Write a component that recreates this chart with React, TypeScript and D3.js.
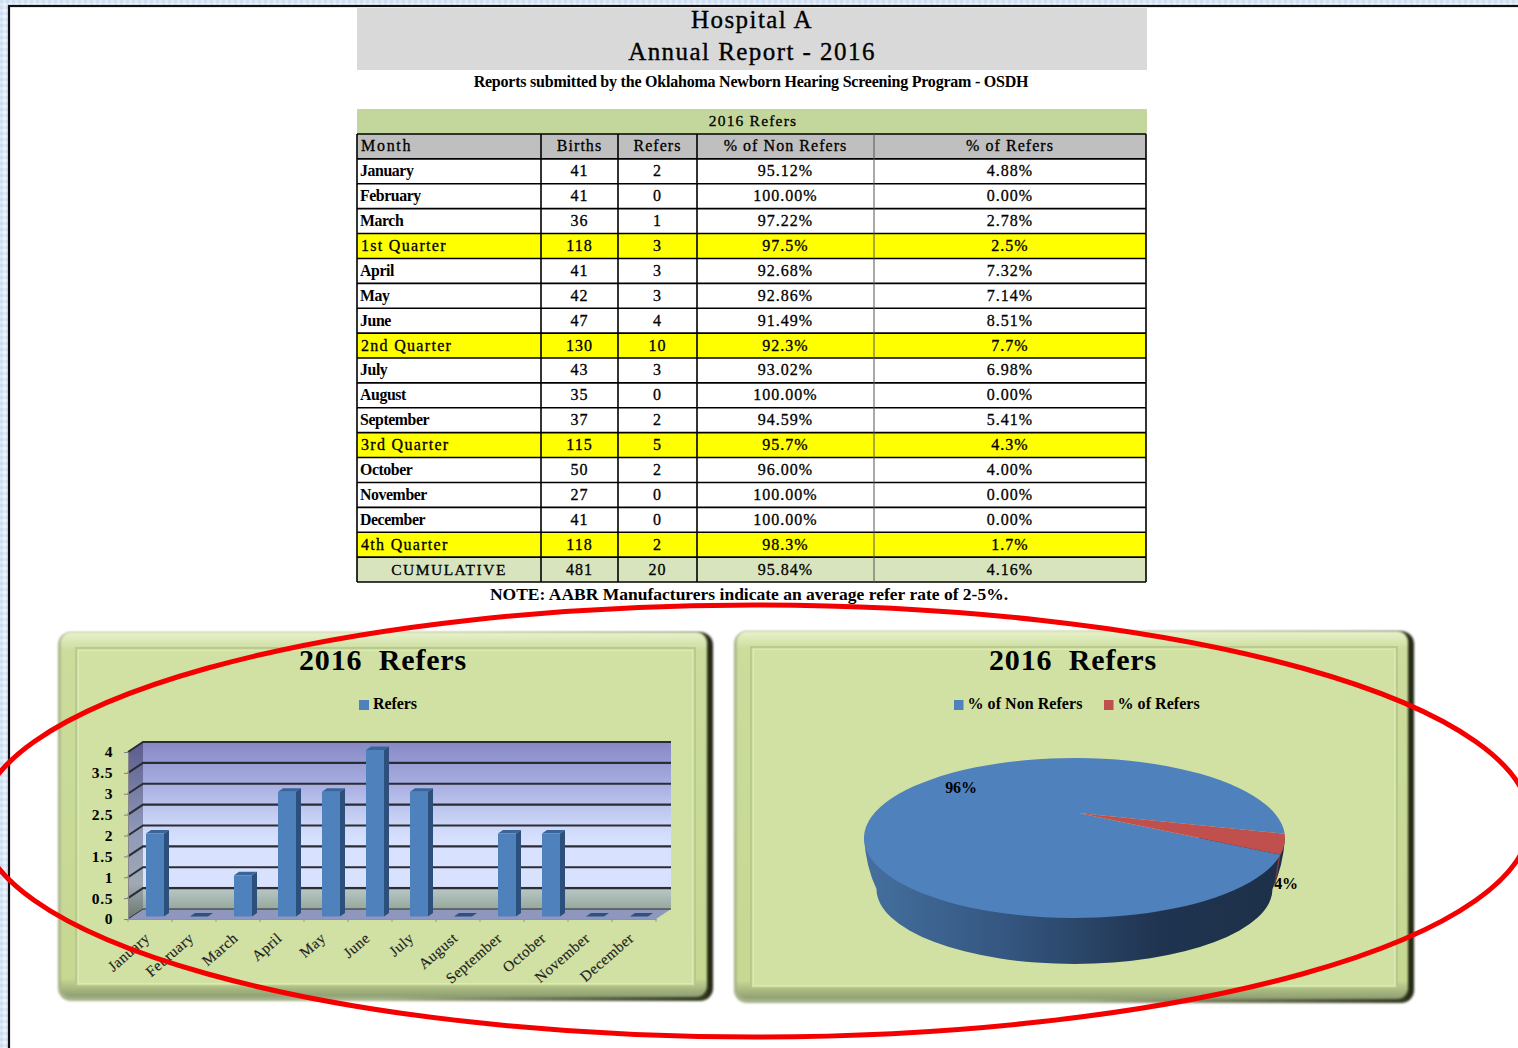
import * as d3 from "d3";
import React from "react";

// table columns
const rowLabels = ["January","February","March","1st Quarter","April","May","June","2nd Quarter","July","August","September","3rd Quarter","October","November","December","4th Quarter","CUMULATIVE"];
const birthsCol = ["41","41","36","118","41","42","47","130","43","35","37","115","50","27","41","118","481"];
const refersCol = ["2","0","1","3","3","3","4","10","3","0","2","5","2","0","0","2","20"];
const nonReferCol = ["95.12%","100.00%","97.22%","97.5%","92.68%","92.86%","91.49%","92.3%","93.02%","100.00%","94.59%","95.7%","96.00%","100.00%","100.00%","98.3%","95.84%"];
const referCol = ["4.88%","0.00%","2.78%","2.5%","7.32%","7.14%","8.51%","7.7%","6.98%","0.00%","5.41%","4.3%","4.00%","0.00%","0.00%","1.7%","4.16%"];
const headers = ["Month","Births","Refers","% of Non Refers","% of Refers"];

// bar chart
const months = ["January","February","March","April","May","June","July","August","September","October","November","December"];
const monthRefers = [2,0,1,3,3,4,3,0,2,2,0,0];
const yTicks = [0,0.5,1,1.5,2,2.5,3,3.5,4];

// pie chart
const pieLabels = ["% of Non Refers","% of Refers"];
const pieValues = [95.84,4.16];
const pieText = ["96%","4%"];

const serif = "'Liberation Serif', serif";

const drawPanel = (svg, x, y, w, h, inset) => {
  const g = svg.append("g");
  g.append("rect").attr("x", x).attr("y", y).attr("width", w).attr("height", h).attr("rx", 13)
    .attr("fill", "url(#bevelEdge)").attr("filter", "url(#soft)");
  g.append("rect").attr("x", x + 2.5).attr("y", y).attr("width", w - 8.5).attr("height", h - 4).attr("rx", 11)
    .attr("fill", "url(#bevelFace)").attr("filter", "url(#soft)");
  g.append("rect").attr("x", x + inset).attr("y", y + 16).attr("width", w - inset * 2).attr("height", h - 31)
    .attr("fill", "#d0e1a3").attr("stroke", "#b2c388").attr("stroke-width", 1.5);
  g.append("rect").attr("x", x + inset + 2.5).attr("y", y + 18.5).attr("width", w - inset * 2 - 5).attr("height", h - 36)
    .attr("fill", "none").attr("stroke", "#dcebb4").attr("stroke-width", 1);
};

const App = () => {
  const ref = React.useRef(null);

  React.useEffect(() => {
    const svg = d3.select(ref.current);
    svg.selectAll("*").remove();

    const defs = svg.append("defs");
    const grad = (id, stops, horizontal = false) => {
      const g = defs.append("linearGradient").attr("id", id)
        .attr("x1", 0).attr("y1", 0).attr("x2", horizontal ? 1 : 0).attr("y2", horizontal ? 0 : 1);
      stops.forEach(([o, c]) => g.append("stop").attr("offset", o).attr("stop-color", c));
    };
    grad("wall", [[0,"#8688c4"],[0.25,"#a8aee0"],[0.5,"#ccd7f8"],[0.6,"#d8e2ff"],[0.86,"#d8e2ff"],[0.88,"#b8c6c4"],[1,"#96a99c"]]);
    grad("sideWall", [[0,"#5a5c8c"],[0.5,"#8f98b8"],[0.8,"#a0a9b4"],[1,"#68786c"]]);
    grad("pieSide", [[0,"#44709f"],[0.35,"#34557f"],[0.7,"#1f3450"],[1,"#1d3049"]], true);
    grad("bevelEdge", [[0,"#a4b388"],[0.5,"#a4b388"],[0.985,"#343a22"],[1,"#20240f"]], true);
    grad("bevelFace", [[0,"#e8f2cc"],[0.05,"#cbdc9c"],[0.95,"#c6d892"],[1,"#8f9d72"]]);
    defs.append("filter").attr("id", "soft").append("feGaussianBlur").attr("stdDeviation", 1.3);
    const tile = defs.append("pattern").attr("id", "pageTile").attr("width", 6).attr("height", 6).attr("patternUnits", "userSpaceOnUse");
    tile.append("rect").attr("width", 6).attr("height", 6).attr("fill", "#dfe9f6");
    tile.append("rect").attr("width", 3).attr("height", 3).attr("fill", "#cfdff2");
    tile.append("rect").attr("x", 3).attr("y", 3).attr("width", 3).attr("height", 3).attr("fill", "#edf3fa");

    // page frame
    svg.append("rect").attr("width", 1518).attr("height", 1048).attr("fill", "url(#pageTile)");
    svg.append("rect").attr("x", 9).attr("y", 6).attr("width", 1520).attr("height", 1060)
      .attr("fill", "#fff").attr("stroke", "#111").attr("stroke-width", 2.2);

    // heading
    svg.append("rect").attr("x", 357).attr("y", 8).attr("width", 790).attr("height", 62).attr("fill", "#d9d9d9");
    const label = (parent, txt, x, y, size, anchor = "middle", weight = "bold", spacing = 0, heavy = 0) =>
      parent.append("text").text(txt).attr("x", x).attr("y", y).attr("font-size", size)
        .attr("text-anchor", anchor).attr("font-weight", weight).attr("letter-spacing", spacing)
        .attr("font-family", serif).attr("fill", "#000")
        .attr("stroke", heavy ? "#000" : "none").attr("stroke-width", heavy)
        .style("white-space", "pre");
    label(svg, "Hospital A", 752, 28, 25, "middle", "normal", 1.45, 0.35);
    label(svg, "Annual Report - 2016", 752, 60, 25, "middle", "normal", 1.45, 0.35);
    label(svg, "Reports submitted by the Oklahoma Newborn Hearing Screening Program - OSDH", 751, 87, 16, "middle", "bold", -0.22);

    // table
    const colEdges = [357, 541, 618, 697, 874, 1146];
    const table = svg.append("g");
    table.append("rect").attr("x", 357).attr("y", 109).attr("width", 790).attr("height", 25).attr("fill", "#c3d69b");
    label(table, "2016 Refers", 753, 126, 15.5, "middle", "normal", 1.2, 0.3);
    const rowY = d3.scaleBand().domain(["header", ...rowLabels]).range([134, 582]);
    const rowFill = (name) => {
      if (name === "header") return "#bfbfbf";
      if (name.includes("Quarter")) return "#ffff00";
      if (name === "CUMULATIVE") return "#d7e4bd";
      return "#fff";
    };
    rowY.domain().forEach((name) => {
      table.append("rect").attr("x", 357).attr("y", rowY(name)).attr("width", 789).attr("height", rowY.bandwidth()).attr("fill", rowFill(name));
    });
    rowY.domain().forEach((name) => {
      table.append("line").attr("x1", 357).attr("x2", 1146).attr("y1", rowY(name)).attr("y2", rowY(name)).attr("stroke", "#000").attr("stroke-width", 1.6);
    });
    table.append("line").attr("x1", 357).attr("x2", 1146).attr("y1", 582).attr("y2", 582).attr("stroke", "#000").attr("stroke-width", 1.6);
    colEdges.forEach((x, i) => {
      table.append("line").attr("x1", x).attr("x2", x).attr("y1", 134).attr("y2", 582)
        .attr("stroke", i === 4 ? "#555" : "#000").attr("stroke-width", i === 4 ? 1 : 1.6);
    });
    const colCenter = (i) => (colEdges[i] + colEdges[i + 1]) / 2;
    headers.forEach((h, i) => {
      const y = rowY("header") + 17;
      if (i === 0) label(table, h, 361, y, 16, "start", "normal", 1.7, 0.3);
      else label(table, h, colCenter(i), y, 16, "middle", "normal", 1.05, 0.3);
    });
    rowLabels.forEach((name, r) => {
      const y = rowY(name) + 17.4;
      const plain = !name.includes("Quarter") && name !== "CUMULATIVE";
      if (name === "CUMULATIVE") label(table, name, colCenter(0), y, 15.5, "middle", "normal", 1.5, 0.3);
      else if (plain) label(table, name, 360, y, 15.8, "start", "bold", -0.4);
      else label(table, name, 361, y, 16, "start", "normal", 1.3, 0.3);
      [birthsCol, refersCol, nonReferCol, referCol].forEach((col, c) => {
        label(table, col[r], colCenter(c + 1), y, 16, "middle", "normal", 1, 0.3);
      });
    });
    label(svg, "NOTE: AABR Manufacturers indicate an average refer rate of 2-5%.", 749, 600, 17.5, "middle", "bold", 0);

    // panels
    drawPanel(svg, 58, 632, 655, 369, 18);
    drawPanel(svg, 734, 631, 680, 372, 17);

    // bar chart
    const depthX = 15, depthY = -10;
    const y = d3.scaleLinear().domain([0, 4]).range([919, 752]);
    const x = d3.scaleBand().domain(months).range([128, 656]);
    const bar = svg.append("g");
    label(bar, "2016  Refers", 383, 670, 30, "middle", "bold", 0.8);
    bar.append("rect").attr("x", 359).attr("y", 700).attr("width", 10).attr("height", 10).attr("fill", "#4f81bd");
    label(bar, "Refers", 373, 709, 16, "start", "bold", -0.1);

    const top = y(4), bottom = y(0);
    const poly = (pts) => d3.line()(pts);
    bar.append("rect").attr("x", 128 + depthX).attr("y", top + depthY).attr("width", 528).attr("height", bottom - top).attr("fill", "url(#wall)");
    bar.append("path").attr("d", poly([[128, top],[128 + depthX, top + depthY],[128 + depthX, bottom + depthY],[128, bottom]]) + "Z").attr("fill", "url(#sideWall)");
    bar.append("path").attr("d", poly([[128, bottom],[128 + depthX, bottom + depthY],[656 + depthX, bottom + depthY],[656, bottom]]) + "Z").attr("fill", "#8f97bf");
    yTicks.forEach((t) => {
      bar.append("path").attr("d", poly([[128, y(t)],[128 + depthX, y(t) + depthY],[656 + depthX, y(t) + depthY]]))
        .attr("fill", "none").attr("stroke", "#2c2c34").attr("stroke-width", t === 0 ? 1 : 2.1);
    });

    const yAxis = d3.axisLeft(y).tickValues(yTicks).tickFormat((d) => String(d)).tickSize(4).tickPadding(11);
    const yGroup = bar.append("g").attr("transform", "translate(128,0)").call(yAxis);
    yGroup.select(".domain").attr("stroke", "#888");
    yGroup.selectAll("text").attr("font-family", serif).attr("font-size", 15.5).attr("font-weight", "bold").attr("fill", "#000").attr("letter-spacing", 0.6);
    yGroup.selectAll("line").attr("stroke", "#7a7f88");

    const xAxis = d3.axisBottom(x).tickSize(0).tickPadding(12);
    const xGroup = bar.append("g").attr("transform", `translate(0,${bottom})`).call(xAxis);
    xGroup.select(".domain").attr("stroke", "#8a93a8");
    xGroup.selectAll("text").attr("font-family", serif).attr("font-size", 15).attr("fill", "#222")
      .attr("text-anchor", "end").attr("x", 0).attr("y", 12).attr("dy", "0.4em").attr("letter-spacing", 0.45)
      .attr("stroke", "#222").attr("stroke-width", 0.15)
      .attr("transform", "translate(-11,7) rotate(-41)");
    const tickEdges = d3.range(months.length + 1).map((i) => 128 + i * x.step());
    tickEdges.forEach((tx) => {
      bar.append("line").attr("x1", tx).attr("x2", tx).attr("y1", bottom).attr("y2", bottom + 3).attr("stroke", "#8a93a8");
    });

    const barW = 18, bdx = 5, bdy = -3.5;
    months.forEach((m, i) => {
      const bx = x(m) + 18;
      const by = y(monthRefers[i]) - 2;
      const base = bottom - 2.5;
      if (monthRefers[i] === 0) {
        bar.append("path").attr("d", poly([[bx, base],[bx + bdx, base + bdy],[bx + barW + bdx, base + bdy],[bx + barW, base]]) + "Z").attr("fill", "#2d5180");
        return;
      }
      bar.append("path").attr("d", poly([[bx, by],[bx + bdx, by + bdy],[bx + barW + bdx, by + bdy],[bx + barW, by]]) + "Z").attr("fill", "#3a659b");
      bar.append("path").attr("d", poly([[bx + barW, by],[bx + barW + bdx, by + bdy],[bx + barW + bdx, base + bdy],[bx + barW, base]]) + "Z").attr("fill", "#2c4f7c");
      bar.append("rect").attr("x", bx).attr("y", by).attr("width", barW).attr("height", base - by).attr("fill", "#4f81bd");
    });

    // pie chart, slanted ellipse with the apex pushed back by perspective
    const pieG = svg.append("g");
    label(pieG, "2016  Refers", 1073, 670, 30, "middle", "bold", 0.8);
    const legendX = [954, 1104];
    const pieColors = ["#4f81bd", "#c0504d"];
    pieLabels.forEach((t, i) => {
      pieG.append("rect").attr("x", legendX[i]).attr("y", 700).attr("width", 9.5).attr("height", 10).attr("fill", pieColors[i]);
      label(pieG, t, legendX[i] + 13.5, 709, 16, "start", "bold", 0.05);
    });
    const cx = 1074.5, cy = 838, rx = 210.5, ry = 80;
    const apex = [1078, 813];
    const rim = (a) => [cx + rx * Math.sin(a), cy - ry * Math.cos(a)];
    const slices = d3.pie().sort(null).startAngle((102 * Math.PI) / 180).endAngle((102 * Math.PI) / 180 + 2 * Math.PI)(pieValues);

    const lowCy = 889, lowRx = 198, lowRy = 75;
    pieG.append("path")
      .attr("d", `M${cx - rx},${cy} Q${cx - rx + 2},${lowCy - 22} ${cx - lowRx},${lowCy} A${lowRx},${lowRy} 0 0 0 ${cx + lowRx},${lowCy} Q${cx + rx - 2},${lowCy - 22} ${cx + rx},${cy} Z`)
      .attr("fill", "url(#pieSide)");
    const [sx, sy] = rim(slices[1].endAngle);
    pieG.append("path").attr("d", d3.line()([[sx, sy],[sx - 5, sy + 30],[sx - 6, sy + 30],[sx - 1.5, sy]]) + "Z").attr("fill", "#8c3b3a");
    slices.forEach((s, i) => {
      const [x0, y0] = rim(s.startAngle);
      const [x1, y1] = rim(s.endAngle);
      const large = s.endAngle - s.startAngle > Math.PI ? 1 : 0;
      pieG.append("path").attr("d", `M${apex[0]},${apex[1]} L${x0},${y0} A${rx},${ry} 0 ${large} 1 ${x1},${y1} Z`).attr("fill", pieColors[i]);
    });
    label(pieG, pieText[0], 961, 793, 16, "middle", "bold", -0.2);
    label(pieG, pieText[1], 1286, 889, 16, "middle", "bold", -0.2);

    // hand drawn annotation round the charts
    svg.append("ellipse").attr("cx", 755).attr("cy", 821).attr("rx", 775).attr("ry", 216)
      .attr("fill", "none").attr("stroke", "#f50000").attr("stroke-width", 5);
  }, []);

  return <svg ref={ref} width={1518} height={1048} style={{ position: "absolute", left: 0, top: 0, display: "block" }} />;
};

export default App;
